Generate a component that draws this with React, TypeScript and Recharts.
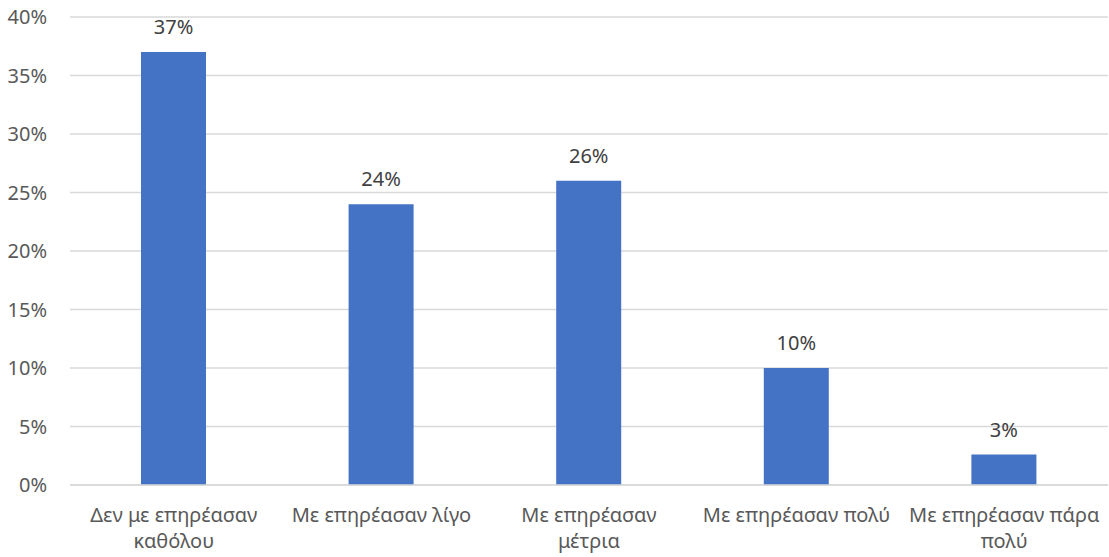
import { BarChart, Bar, XAxis, YAxis, CartesianGrid, LabelList } from 'recharts';

const categories = [
  'Δεν με επηρέασαν\nκαθόλου',
  'Με επηρέασαν λίγο',
  'Με επηρέασαν\nμέτρια',
  'Με επηρέασαν πολύ',
  'Με επηρέασαν πάρα\nπολύ',
];
const shares = [0.37, 0.24, 0.26, 0.1, 0.026];
const yTicks = [0, 0.05, 0.1, 0.15, 0.2, 0.25, 0.3, 0.35, 0.4];

const data = categories.map((name, i) => ({ name, value: shares[i] }));

const FONT = '"Noto Sans", "Open Sans", sans-serif';
const pct = (v: number) => `${Math.round(v * 100)}%`;

function CategoryTick({ x, y, payload }: any) {
  const lines = String(payload.value).split('\n');
  return (
    <text x={x} y={y} textAnchor="middle" fill="#595959" fontSize={20} fontFamily={FONT}>
      {lines.map((line, i) => (
        <tspan key={i} x={x} dy={i === 0 ? 29 : 26}>
          {line}
        </tspan>
      ))}
    </text>
  );
}

export default function App() {
  return (
    <div style={{ position: 'absolute', left: 0, top: 0, background: '#fff' }}>
      <BarChart
        width={1109}
        height={557}
        data={data}
        margin={{ top: 17, right: 1, bottom: 0, left: 0 }}
        barCategoryGap={0}
      >
        <CartesianGrid stroke="#d9d9d9" strokeWidth={1.5} vertical={false} />
        <XAxis
          dataKey="name"
          axisLine={{ stroke: '#d9d9d9', strokeWidth: 1.5 }}
          tickLine={false}
          tick={<CategoryTick />}
          interval={0}
          height={72}
        />
        <YAxis
          domain={[0, 0.4]}
          ticks={yTicks}
          tickFormatter={pct}
          axisLine={false}
          tickLine={false}
          tickSize={0}
          tickMargin={23}
          width={70}
          tick={{ fill: '#595959', fontSize: 20, fontFamily: FONT }}
          interval={0}
        />
        <Bar dataKey="value" fill="#4472C4" barSize={65} isAnimationActive={false}>
          <LabelList
            dataKey="value"
            position="top"
            offset={18}
            formatter={(v: any) => pct(Number(v))}
            style={{ fill: '#404040', fontSize: 20, fontFamily: FONT }}
          />
        </Bar>
      </BarChart>
    </div>
  );
}
